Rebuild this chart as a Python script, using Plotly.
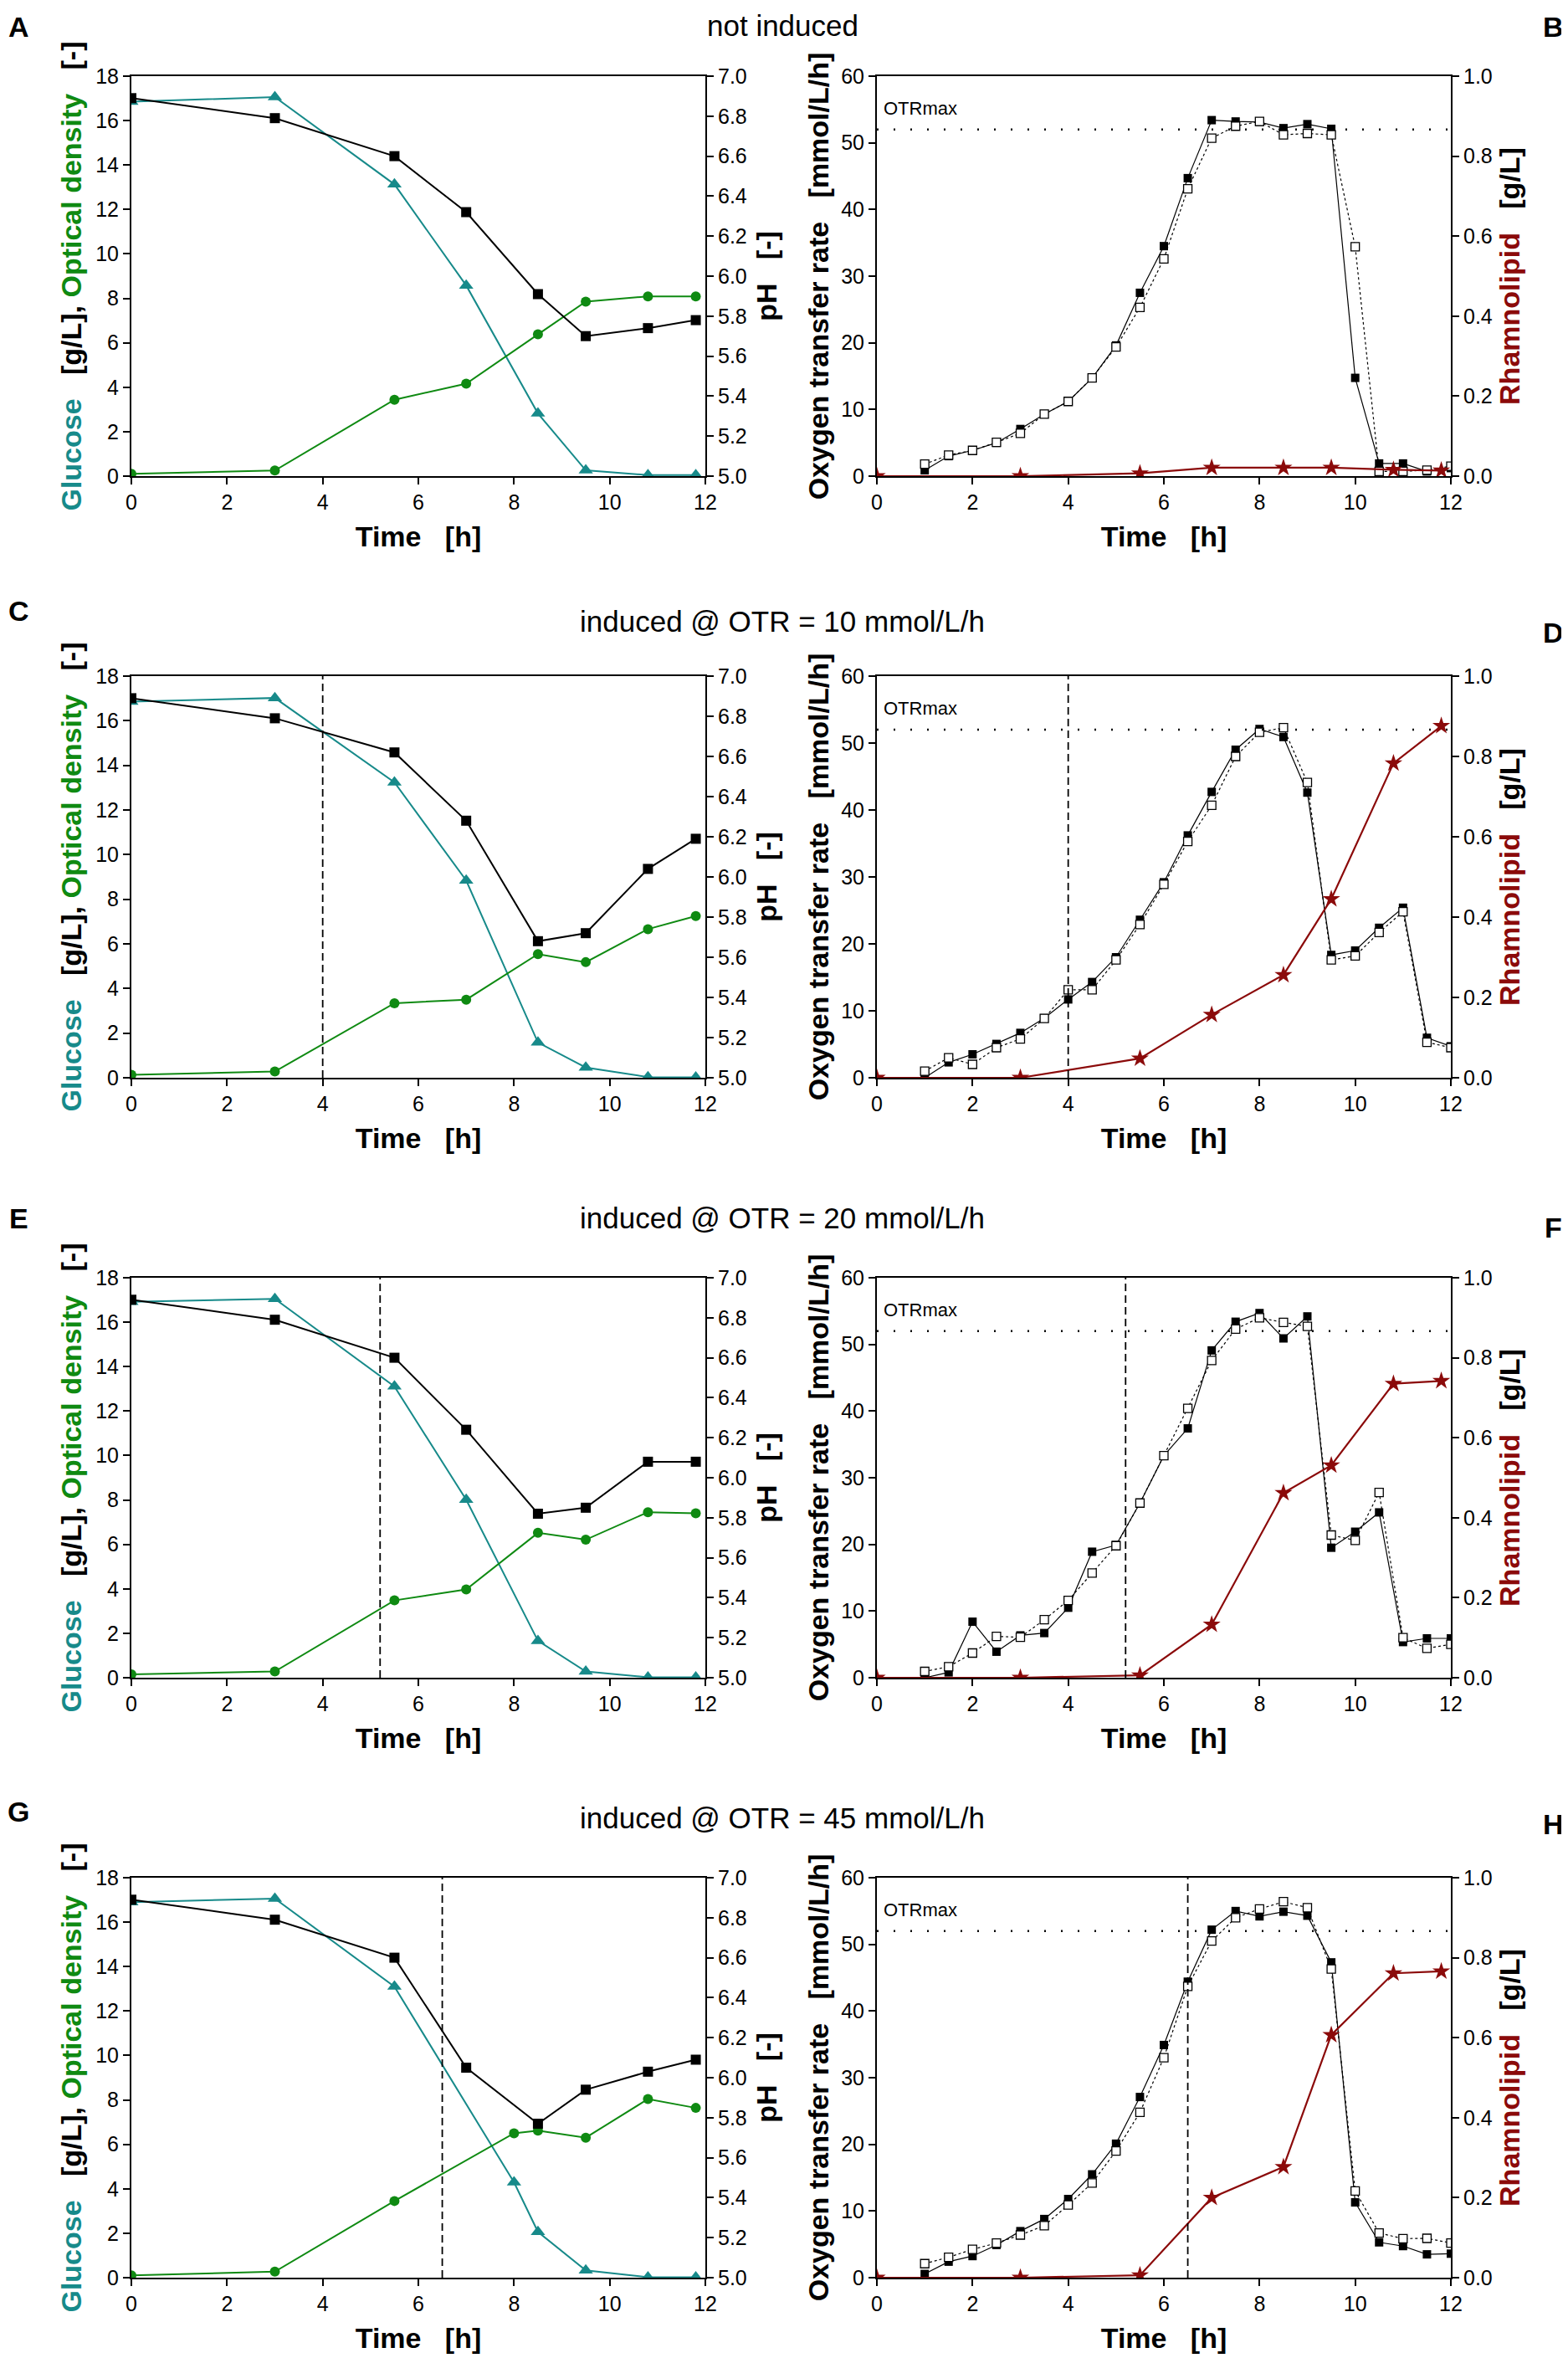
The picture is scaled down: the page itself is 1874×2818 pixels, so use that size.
import plotly.graph_objects as go

# sampling times [h]
t_off = [0, 3, 5.5, 7, 8.5, 9.5, 10.8, 11.8]
t_off_g = [0, 3, 5.5, 8, 8.5, 9.5, 10.8, 11.8]
t_otr = [1, 1.5, 2, 2.5, 3, 3.5, 4, 4.5, 5, 5.5, 6, 6.5, 7, 7.5, 8, 8.5, 9, 9.5, 10, 10.5, 11, 11.5, 12]

otr_max = 52

# A - not induced (offline)
glc_a = [16.85, 17.06, 13.13, 8.58, 2.82, 0.26, 0.05, 0.05]
od_a = [0.1, 0.25, 3.44, 4.16, 6.38, 7.85, 8.09, 8.09]
ph_a = [6.89, 6.79, 6.60, 6.32, 5.91, 5.70, 5.74, 5.78]
# B - not induced (OTR, rhamnolipid)
otr1_b = [0.87, 3.0, 3.86, 5.0, 7.07, 9.3, 11.2, 14.7, 19.6, 27.5, 34.5, 44.7, 53.4, 53.2, 53.1, 52.2, 52.8, 52.1, 14.74, 1.9, 1.9, 0.7, 1.2]
otr2_b = [1.8, 3.16, 3.86, 5.06, 6.42, 9.3, 11.2, 14.74, 19.37, 25.3, 32.6, 43.1, 50.7, 52.5, 53.2, 51.2, 51.4, 51.2, 34.4, 0.7, 0.7, 0.9, 1.5]
rl_b = [0, 0, 0.007, 0.021, 0.021, 0.021, 0.016, 0.014]

# C/D - induced @ OTR = 10
glc_c = [16.86, 17.02, 13.24, 8.84, 1.58, 0.46, 0.03, 0.02]
od_c = [0.13, 0.28, 3.34, 3.5, 5.54, 5.18, 6.66, 7.25]
ph_c = [6.89, 6.79, 6.62, 6.28, 5.68, 5.72, 6.04, 6.19]
otr1_d = [0, 2.3, 3.5, 5.05, 6.7, 8.9, 11.7, 14.3, 18.0, 23.6, 29.2, 36.2, 42.7, 49.0, 52.1, 50.9, 42.6, 18.35, 19.0, 22.4, 25.4, 5.97, 4.7]
otr2_d = [0.98, 2.99, 2.0, 4.5, 5.8, 8.85, 13.14, 13.14, 17.6, 22.9, 28.9, 35.3, 40.7, 48.0, 51.6, 52.3, 44.1, 17.6, 18.2, 21.7, 24.8, 5.3, 4.5]
rl_d = [0, 0, 0.048, 0.157, 0.256, 0.445, 0.783, 0.876]

# E/F - induced @ OTR = 20
glc_e = [16.92, 17.05, 13.11, 8.01, 1.66, 0.28, 0.02, 0.02]
od_e = [0.15, 0.28, 3.48, 3.97, 6.52, 6.21, 7.45, 7.4]
ph_e = [6.89, 6.79, 6.60, 6.24, 5.82, 5.85, 6.08, 6.08]
otr1_f = [0, 0.8, 8.4, 3.9, 6.35, 6.7, 10.5, 18.9, 19.9, 26.2, 33.3, 37.4, 49.1, 53.4, 54.7, 50.9, 54.2, 19.5, 21.9, 24.8, 5.35, 5.9, 5.9]
otr2_f = [0.94, 1.66, 3.7, 6.2, 6.07, 8.7, 11.6, 15.7, 19.8, 26.2, 33.3, 40.4, 47.6, 52.3, 54.0, 53.3, 52.7, 21.4, 20.6, 27.8, 6.0, 4.4, 5.0]
rl_f = [0, 0, 0.006, 0.133, 0.462, 0.531, 0.735, 0.742]

# G/H - induced @ OTR = 45
glc_g = [16.9, 17.06, 13.1, 4.29, 2.06, 0.33, 0.02, 0.02]
od_g = [0.1, 0.27, 3.45, 6.5, 6.62, 6.3, 8.04, 7.64]
ph_g = [6.89, 6.79, 6.60, 6.05, 5.77, 5.94, 6.03, 6.09]
otr1_h = [0.56, 2.4, 3.24, 4.9, 6.98, 8.8, 11.8, 15.5, 20.1, 27.1, 34.9, 44.4, 52.2, 55.0, 54.2, 54.9, 54.3, 47.3, 11.3, 5.3, 4.74, 3.5, 3.6]
otr2_h = [2.1, 3.07, 4.24, 5.2, 6.4, 7.8, 10.9, 14.2, 19.0, 24.8, 33.0, 43.7, 50.5, 54.0, 55.3, 56.4, 55.5, 46.3, 13.0, 6.7, 5.86, 5.9, 5.2]
rl_h = [0, 0, 0.006, 0.2, 0.277, 0.607, 0.761, 0.766]

titles = ["not induced", "induced @ OTR = 10 mmol/L/h", "induced @ OTR = 20 mmol/L/h", "induced @ OTR = 45 mmol/L/h"]
t_induce = [None, 4.0, 5.2, 6.5]
letters = ["A", "B", "C", "D", "E", "F", "G", "H"]

rows = [
    (t_off, glc_a, od_a, ph_a, otr1_b, otr2_b, rl_b),
    (t_off, glc_c, od_c, ph_c, otr1_d, otr2_d, rl_d),
    (t_off, glc_e, od_e, ph_e, otr1_f, otr2_f, rl_f),
    (t_off_g, glc_g, od_g, ph_g, otr1_h, otr2_h, rl_h),
]

TEAL = "#178a8a"
GREEN = "#0f8a12"
RED = "#8b0a0a"
FONT = "Liberation Sans, Arial, sans-serif"

W, H = 1874, 2818
OFF = 8  # page body margin shifts the figure by this many px
col_px = [(157, 843), (1048, 1734)]
row_px = [(91, 569), (808, 1288), (1527, 2005), (2244, 2722)]
title_y = [30, 743, 1456, 2172]
letter_y = [(32, 32), (730, 756), (1456, 1467), (2165, 2180)]
letter_x = [22, 1856]


def fx(p):
    return (p - OFF) / W


def fy(p):
    return 1 - (p - OFF) / H


def ref(prefix, n):
    return prefix if n == 1 else prefix + str(n)


tick_font = dict(family=FONT, size=25, color="black")
ttl_font = dict(family=FONT, size=34, color="black", weight="bold")
sp = "\u00a0\u00a0\u00a0"

fig = go.Figure()
layout = {}
shapes = []
annotations = []

for r in range(4):
    t_lab, glc, od, ph, otr1, otr2, rl = rows[r]
    for c in range(2):
        k = 2 * r + c
        nx, ny, ny2 = k + 1, 2 * k + 1, 2 * k + 2
        xr, yr, yr2 = ref("x", nx), ref("y", ny), ref("y", ny2)
        xd = [fx(col_px[c][0]), fx(col_px[c][1])]
        yd = [fy(row_px[r][1]), fy(row_px[r][0])]

        axis_common = dict(showline=True, linewidth=2, linecolor="black", ticks="outside",
                           ticklen=8, tickwidth=2, tickcolor="black", showgrid=False,
                           zeroline=False, tickfont=tick_font, automargin=False)
        layout[ref("xaxis", nx)] = dict(axis_common, domain=xd, anchor=yr, range=[0, 12], dtick=2,
                                        mirror=True,
                                        title=dict(text="Time" + sp + "[h]", font=ttl_font, standoff=16))
        if c == 0:
            layout[ref("yaxis", ny)] = dict(axis_common, domain=yd, anchor=xr, range=[0, 18], dtick=2,
                title=dict(text="<span style='color:%s'>Glucose</span>%s[g/L], <span style='color:%s'>Optical density</span>%s[-]"
                           % (TEAL, sp, GREEN, sp), font=ttl_font, standoff=6))
            layout[ref("yaxis", ny2)] = dict(axis_common, overlaying=yr, side="right", anchor=xr,
                range=[5, 7], dtick=0.2, tickformat=".1f",
                title=dict(text="pH" + sp + "[-]", font=ttl_font, standoff=12))
            fig.add_trace(go.Scatter(x=t_lab, y=glc, mode="lines+markers", xaxis=xr, yaxis=yr,
                                     line=dict(color=TEAL, width=2),
                                     marker=dict(symbol="triangle-up", size=15, color=TEAL)))
            fig.add_trace(go.Scatter(x=t_lab, y=od, mode="lines+markers", xaxis=xr, yaxis=yr,
                                     line=dict(color=GREEN, width=2),
                                     marker=dict(symbol="circle", size=12, color=GREEN)))
            fig.add_trace(go.Scatter(x=t_off, y=ph, mode="lines+markers", xaxis=xr, yaxis=yr2,
                                     line=dict(color="black", width=2),
                                     marker=dict(symbol="square", size=12, color="black")))
        else:
            layout[ref("yaxis", ny)] = dict(axis_common, domain=yd, anchor=xr, range=[0, 60], dtick=10,
                title=dict(text="Oxygen transfer rate" + sp + "[mmol/L/h]", font=ttl_font, standoff=4))
            layout[ref("yaxis", ny2)] = dict(axis_common, overlaying=yr, side="right", anchor=xr,
                range=[0, 1], dtick=0.2, tickformat=".1f",
                title=dict(text="<span style='color:%s'>Rhamnolipid</span>%s[g/L]" % (RED, sp),
                           font=ttl_font, standoff=9))
            fig.add_trace(go.Scatter(x=t_otr, y=otr1, mode="lines+markers", xaxis=xr, yaxis=yr,
                                     line=dict(color="black", width=1.2),
                                     marker=dict(symbol="square", size=10, color="black")))
            fig.add_trace(go.Scatter(x=t_otr, y=otr2, mode="lines+markers", xaxis=xr, yaxis=yr,
                                     line=dict(color="black", width=1.2, dash="3px,3px"),
                                     marker=dict(symbol="square", size=10, color="white",
                                                 line=dict(color="black", width=1.3))))
            fig.add_trace(go.Scatter(x=t_off, y=rl, mode="lines+markers", xaxis=xr, yaxis=yr2,
                                     line=dict(color=RED, width=2.2),
                                     marker=dict(symbol="star", size=16, color=RED)))
            shapes.append(dict(type="line", xref=xr + " domain", yref=yr, x0=0, x1=1,
                               y0=otr_max, y1=otr_max,
                               line=dict(color="black", width=2.5, dash="2px,18px")))
            annotations.append(dict(text="OTRmax", xref=xr, yref=yr, x=0.1, y=55.2,
                                    xanchor="left", yanchor="middle", showarrow=False,
                                    font=dict(family=FONT, size=22, color="black")))
        if t_induce[r] is not None:
            shapes.append(dict(type="line", xref=xr, yref=yr + " domain", x0=t_induce[r], x1=t_induce[r],
                               y0=0, y1=1, line=dict(color="black", width=1.8, dash="9px,5px")))
        annotations.append(dict(text="<b>%s</b>" % letters[k], xref="paper", yref="paper",
                                x=fx(letter_x[c]), y=fy(letter_y[r][c]), xanchor="center", yanchor="middle",
                                showarrow=False, font=dict(family=FONT, size=34, color="black")))
    annotations.append(dict(text=titles[r], xref="paper", yref="paper", x=fx(935), y=fy(title_y[r]),
                            xanchor="center", yanchor="middle", showarrow=False,
                            font=dict(family=FONT, size=35, color="black")))

fig.update_layout(**layout)
fig.update_layout(width=W, height=H, margin=dict(l=0, r=0, t=0, b=0, autoexpand=False), showlegend=False,
                  plot_bgcolor="white", paper_bgcolor="white", shapes=shapes, annotations=annotations)
fig.write_html("out.html")
